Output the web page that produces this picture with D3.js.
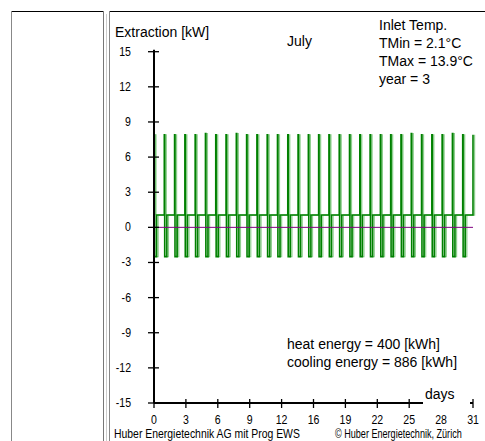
<!DOCTYPE html>
<html><head><meta charset="utf-8">
<script src="https://cdn.jsdelivr.net/npm/d3@7"></script>
<style>
html,body{margin:0;padding:0;background:#fff;}
svg{display:block;}
.narrow{font-family:"Liberation Sans Narrow","Arial Narrow","Liberation Sans",Arial,sans-serif;}
.reg{font-family:"Liberation Sans",Arial,sans-serif;}
</style></head>
<body>
<svg id="c" width="485" height="441"></svg>
<script>
// ---- data ----
const yTicks = [-15,-12,-9,-6,-3,0,3,6,9,12,15];
const xTickLabels = ["0","3","6","9","12","16","19","22","25","28","31"];
const dayStarts = d3.range(0, 32);           // day boundaries 0..31
const peakKW  = [7.9,7.9,7.9,7.9,7.9,8.0,7.9,7.9,8.0,7.9,7.9,7.9,7.9,7.9,7.9,7.9,
                 7.9,7.9,7.9,7.9,7.9,7.9,7.9,7.9,7.9,8.0,7.9,7.9,7.9,8.0,7.9,7.9];
const lowKW   = [-2.5,-2.5,-2.5,-2.5,-2.5,-2.5,-2.5,-2.5,-2.5,-2.5,-2.5,-2.5,-2.5,-2.5,-2.5,-2.5,
                 -2.5,-2.5,-2.5,-2.5,-2.5,-2.5,-2.5,-2.5,-2.5,-2.5,-2.5,-2.5,-2.5,-2.5,-2.5];
const levelKW = [1.05,1.05,1.05,1.05,1.05,1.05,1.05,1.05,1.05,1.05,1.05,1.05,1.05,1.05,1.05,1.05,
                 1.05,1.05,1.05,1.05,1.05,1.05,1.05,1.05,1.05,1.05,1.05,1.05,1.05,1.05,1.05];
const spikeLen = 0.04, lowLen = 0.25;        // fraction of day
const infoLines = ["Inlet Temp.","TMin = 2.1°C","TMax = 13.9°C","year = 3"];
const energyLines = ["heat energy = 400 [kWh]","cooling energy = 886 [kWh]"];
const footerLeft = "Huber Energietechnik AG mit Prog EWS";
const footerRight = "© Huber Energietechnik, Zürich";

// ---- build step series ----
const pts = [];
dayStarts.forEach((d,i)=>{
  pts.push([d, levelKW[Math.max(0,i-1)]]);
  pts.push([d, peakKW[i]]);
  if(i < levelKW.length){
    pts.push([d+spikeLen, peakKW[i]]);
    pts.push([d+spikeLen, lowKW[i]]);
    pts.push([d+lowLen, lowKW[i]]);
    pts.push([d+lowLen, levelKW[i]]);
  }
});

const svg = d3.select("#c");
// frame
const g0 = svg.append("g");
g0.append("line").attr("x1",11).attr("x2",485).attr("y1",11.5).attr("y2",11.5).attr("stroke","#000");
g0.append("line").attr("x1",11.5).attr("x2",11.5).attr("y1",11).attr("y2",441).attr("stroke","#888");
g0.append("line").attr("x1",103.5).attr("x2",103.5).attr("y1",11).attr("y2",441).attr("stroke","#777");
g0.append("line").attr("x1",106.5).attr("x2",106.5).attr("y1",11).attr("y2",441).attr("stroke","#ccc");
g0.append("line").attr("x1",109.5).attr("x2",109.5).attr("y1",11).attr("y2",441).attr("stroke","#888");
g0.append("rect").attr("x",104).attr("y",8).attr("width",5).attr("height",6).attr("fill","#fff");

const x = d3.scaleLinear().domain([0,31]).range([154,473]);
const y = d3.scaleLinear().domain([-15,15]).range([403,51.7]);

// series
const line = d3.line().x(d=>x(d[0])).y(d=>y(d[1]));
svg.append("path").datum(pts).attr("d",line).attr("fill","none")
  .attr("stroke","#8fcf8f").attr("stroke-width",1.2).attr("transform","translate(1.6,0)");
svg.append("path").datum(pts).attr("d",line).attr("fill","none")
  .attr("stroke","#008000").attr("stroke-width",1.6);
// zero line
svg.append("line").attr("x1",x(0)).attr("x2",x(31)).attr("y1",y(0)).attr("y2",y(0))
  .attr("stroke","#800080").attr("stroke-width",1);

// y axis
const ya = svg.append("g").attr("transform",`translate(${x(0)},0)`);
ya.append("line").attr("x1",0).attr("x2",0).attr("y1",y(15)-2).attr("y2",y(-15)).attr("stroke","#000").attr("stroke-width",2);
ya.selectAll("line.tk").data(yTicks).enter().append("line").attr("class","tk")
  .attr("x1",-6).attr("x2",5).attr("y1",d=>y(d)).attr("y2",d=>y(d)).attr("stroke","#000").attr("stroke-width",1.3);
ya.selectAll("text").data(yTicks).enter().append("text").attr("class","narrow")
  .attr("text-anchor","end").attr("font-size",12)
  .attr("transform",d=>`translate(-23,${y(d)+4}) scale(0.88,1)`).text(d=>d);

// x axis
const xTickVals = d3.range(0,11).map(i=>i*3.1);
const xa = svg.append("g");
xa.append("line").attr("x1",x(0)).attr("x2",x(31)).attr("y1",y(-15)).attr("y2",y(-15)).attr("stroke","#000").attr("stroke-width",2);
xa.selectAll("line.tk").data(xTickVals).enter().append("line").attr("class","tk")
  .attr("x1",d=>x(d)).attr("x2",d=>x(d)).attr("y1",y(-15)-4).attr("y2",y(-15)+5).attr("stroke","#000").attr("stroke-width",1.3);
xa.selectAll("text").data(xTickVals).enter().append("text").attr("class","narrow")
  .attr("text-anchor","middle").attr("font-size",12)
  .attr("transform",d=>`translate(${x(d)},424) scale(0.88,1)`).text((d,i)=>xTickLabels[i]);

// days label with white box
svg.append("rect").attr("x",423).attr("y",384).attr("width",47).attr("height",26).attr("fill","#fff");
svg.append("text").attr("class","reg").attr("x",425).attr("y",399).attr("font-size",14).text("days");

// texts
svg.append("text").attr("class","reg").attr("x",115).attr("y",37).attr("font-size",14).text("Extraction [kW]");
svg.append("text").attr("class","reg").attr("x",287).attr("y",46).attr("font-size",14).text("July");
svg.selectAll("text.info").data(infoLines).enter().append("text").attr("class","info reg")
  .attr("x",379).attr("y",(d,i)=>30+i*18).attr("font-size",14).text(d=>d);
svg.selectAll("text.en").data(energyLines).enter().append("text").attr("class","en reg")
  .attr("x",287).attr("y",(d,i)=>349+i*18).attr("font-size",14).text(d=>d);

// footer (squeezed horizontally to match narrow font)
function squeezed(str, x0, y0, width){
  const t = svg.append("text").attr("class","narrow").attr("font-size",12).text(str);
  const w = t.node().getComputedTextLength();
  t.attr("transform",`translate(${x0},${y0}) scale(${width/w},1)`);
}
squeezed(footerLeft, 114, 438, 186);
squeezed(footerRight, 335, 438, 127);
</script>
</body></html>
